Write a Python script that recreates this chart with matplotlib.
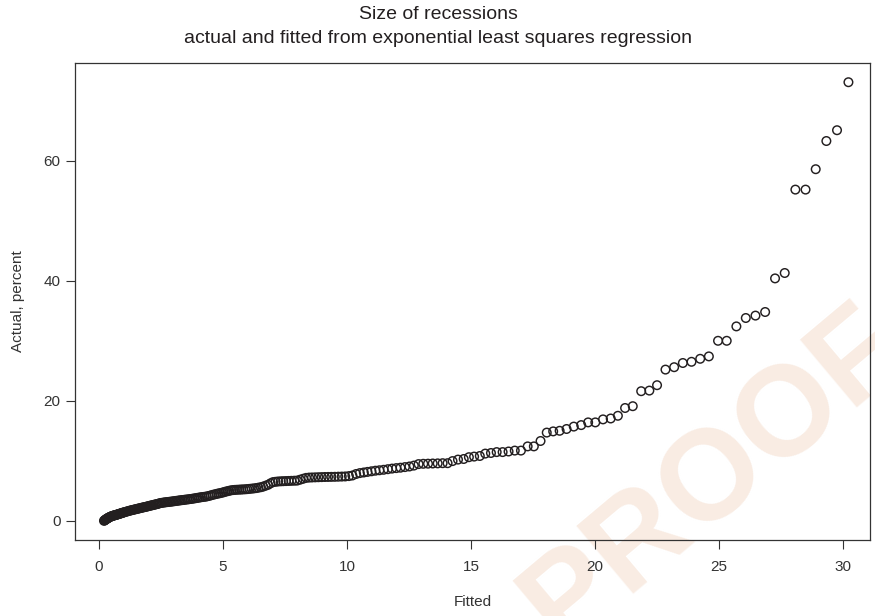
import matplotlib
matplotlib.use("Agg")
import matplotlib.pyplot as plt

plt.rcParams['font.family'] = ['Liberation Sans', 'DejaVu Sans']

# fitted (x) and actual (y) values, sorted
fitted = [
    0.20, 0.22, 0.24, 0.26, 0.28, 0.30, 0.32, 0.34, 0.36, 0.38, 0.40, 0.43,
    0.46, 0.49, 0.52, 0.55, 0.58, 0.61, 0.64, 0.67, 0.70, 0.73, 0.76, 0.79,
    0.82, 0.85, 0.88, 0.91, 0.94, 0.97, 1.00,
    1.05, 1.10, 1.15, 1.20, 1.25, 1.30, 1.35, 1.40, 1.45, 1.50, 1.55, 1.60,
    1.65, 1.70, 1.75, 1.80, 1.85, 1.90, 1.95, 2.00, 2.05, 2.10, 2.15, 2.20,
    2.25, 2.30, 2.35, 2.40, 2.46, 2.52, 2.58, 2.64, 2.70, 2.76, 2.82, 2.88,
    2.94, 3.00,
    3.06, 3.12, 3.18, 3.24, 3.30, 3.36, 3.42, 3.48, 3.55, 3.62, 3.69, 3.76,
    3.83, 3.90, 3.97, 4.04, 4.11, 4.18, 4.26, 4.34, 4.42, 4.50, 4.58, 4.66,
    4.74, 4.81, 4.88, 4.96, 5.03, 5.10, 5.18, 5.25, 5.33,
    5.41, 5.48, 5.56, 5.65, 5.73, 5.81, 5.90, 5.98, 6.07, 6.16, 6.25, 6.34,
    6.43, 6.53, 6.62, 6.72, 6.82, 6.92, 7.02, 7.12, 7.22, 7.33, 7.43, 7.54,
    7.65, 7.76, 7.88, 7.99, 8.11, 8.23, 8.35, 8.47, 8.59, 8.72, 8.85, 8.98,
    9.11, 9.24, 9.37, 9.51, 9.65, 9.79, 9.93, 10.08, 10.22, 10.37, 10.52,
    10.68, 10.83, 10.99, 11.15, 11.31, 11.48, 11.65, 11.82, 11.99, 12.16,
    12.34, 12.52, 12.70, 12.89, 13.08, 13.27, 13.46, 13.66, 13.86,
    14.06, 14.26, 14.48, 14.71, 14.92, 15.13, 15.36, 15.58, 15.81, 16.04,
    16.28, 16.52, 16.77, 17.02, 17.29, 17.54, 17.81, 18.06, 18.32, 18.58,
    18.86, 19.15, 19.45, 19.73, 20.02, 20.33, 20.64, 20.93, 21.22, 21.53,
    21.87, 22.20, 22.51, 22.85, 23.20, 23.55, 23.90, 24.25, 24.60, 24.97,
    25.32, 25.71, 26.09, 26.48, 26.87, 27.27, 27.66, 28.09, 28.50, 28.91,
    29.34, 29.77, 30.23,
]
actual = [
    0.00, 0.05, 0.12, 0.18, 0.24, 0.30, 0.35, 0.40, 0.45, 0.50, 0.55, 0.62,
    0.68, 0.73, 0.78, 0.82, 0.86, 0.90, 0.93, 0.96, 1.00, 1.04, 1.08, 1.12,
    1.16, 1.20, 1.24, 1.28, 1.32, 1.36, 1.40,
    1.46, 1.52, 1.58, 1.64, 1.70, 1.75, 1.80, 1.85, 1.90, 1.95, 2.00, 2.05,
    2.10, 2.15, 2.20, 2.25, 2.29, 2.34, 2.39, 2.45, 2.50, 2.55, 2.60, 2.65,
    2.70, 2.75, 2.80, 2.85, 2.95, 2.98, 3.02, 3.06, 3.09, 3.12, 3.15, 3.18,
    3.21, 3.25,
    3.28, 3.32, 3.35, 3.39, 3.42, 3.45, 3.48, 3.52, 3.55, 3.59, 3.63, 3.67,
    3.72, 3.77, 3.82, 3.87, 3.92, 3.96, 4.00, 4.05, 4.13, 4.22, 4.32, 4.40,
    4.48, 4.55, 4.60, 4.68, 4.76, 4.85, 4.93, 5.00, 5.08,
    5.12, 5.15, 5.17, 5.19, 5.21, 5.23, 5.25, 5.28, 5.32, 5.36, 5.40, 5.45,
    5.52, 5.60, 5.70, 5.85, 6.00, 6.25, 6.45, 6.50, 6.55, 6.58, 6.60, 6.62,
    6.64, 6.66, 6.68, 6.70, 6.85, 7.00, 7.15, 7.20, 7.22, 7.24, 7.26, 7.28,
    7.30, 7.31, 7.32, 7.33, 7.35, 7.37, 7.39, 7.45, 7.55, 7.80, 7.95,
    8.05, 8.15, 8.25, 8.35, 8.42, 8.50, 8.60, 8.70, 8.78, 8.85,
    8.95, 9.05, 9.20, 9.45, 9.50, 9.52, 9.55, 9.57, 9.60,
    9.60, 9.95, 10.2, 10.3, 10.6, 10.7, 10.8, 11.2, 11.3, 11.45,
    11.45, 11.55, 11.7, 11.7, 12.4, 12.4, 13.3, 14.7, 14.9, 15.0,
    15.3, 15.7, 15.95, 16.4, 16.4, 16.9, 17.05, 17.5, 18.8, 19.1,
    21.6, 21.7, 22.6, 25.2, 25.6, 26.3, 26.5, 27.0, 27.4, 30.0,
    30.0, 32.4, 33.8, 34.2, 34.8, 40.4, 41.3, 55.2, 55.2, 58.6,
    63.3, 65.1, 73.1,
]

x_ticks = [0, 5, 10, 15, 20, 25, 30]
y_ticks = [0, 20, 40, 60]

fig = plt.figure(figsize=(8.75, 6.16), dpi=100)
ax = fig.add_axes([0.0857, 0.1234, 0.9083, 0.7743])
ax.set_facecolor("none")

# watermark
fig.text(0.815, 0.225, "PROOF", fontsize=92, fontweight="bold", color="#f9ece3",
         rotation=40, ha="center", va="center", zorder=-1)

ax.scatter(fitted, actual, s=38, facecolors="none", edgecolors="#231f20",
           linewidths=1.05, zorder=3)

ax.set_xlim(-0.97, 31.09)
ax.set_ylim(-3.2, 76.3)
ax.set_xticks(x_ticks)
ax.set_yticks(y_ticks)
ax.tick_params(direction="out", length=6.5, width=0.8, colors="#333333",
               labelsize=11)
ax.tick_params(axis="x", pad=8)
ax.tick_params(axis="y", pad=4)
for sp in ax.spines.values():
    sp.set_color("#333333")
    sp.set_linewidth(0.9)

ax.set_xlabel("Fitted", fontsize=11, color="#333333", labelpad=15)
ax.set_ylabel("Actual, percent", fontsize=11, color="#333333", labelpad=13)
fig.suptitle("Size of recessions\nactual and fitted from exponential least squares regression",
             x=0.501, y=0.99, fontsize=14, color="#231f20", linespacing=1.5, va="top")

fig.savefig("out.png", dpi=100)
